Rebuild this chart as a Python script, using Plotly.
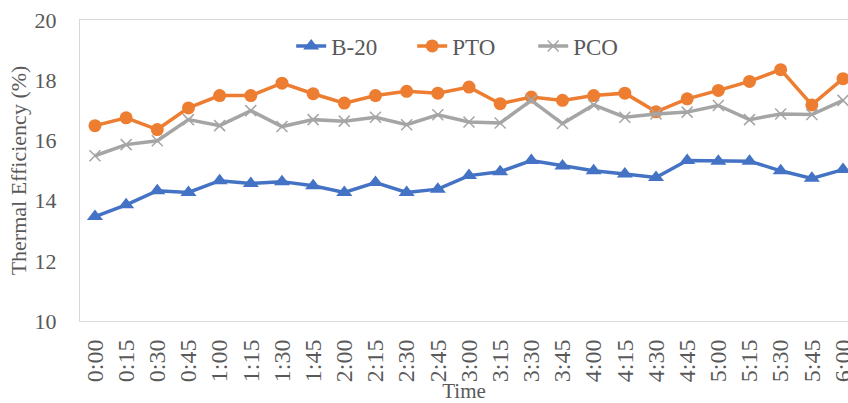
import plotly.graph_objects as go

times = ["0:00", "0:15", "0:30", "0:45", "1:00", "1:15", "1:30", "1:45", "2:00",
         "2:15", "2:30", "2:45", "3:00", "3:15", "3:30", "3:45", "4:00", "4:15",
         "4:30", "4:45", "5:00", "5:15", "5:30", "5:45", "6:00"]

b20 = [13.47, 13.86, 14.33, 14.27, 14.66, 14.57, 14.63, 14.49, 14.27, 14.60,
       14.27, 14.38, 14.83, 14.96, 15.33, 15.15, 14.99, 14.88, 14.77, 15.33,
       15.31, 15.31, 14.99, 14.74, 15.03]

pto = [16.49, 16.75, 16.36, 17.08, 17.49, 17.49, 17.90, 17.55, 17.24, 17.49,
       17.63, 17.57, 17.77, 17.22, 17.44, 17.33, 17.49, 17.57, 16.95, 17.38,
       17.66, 17.96, 18.35, 17.18, 18.05]

pco = [15.49, 15.86, 15.99, 16.69, 16.49, 16.99, 16.46, 16.69, 16.64, 16.77,
       16.52, 16.85, 16.61, 16.58, 17.33, 16.56, 17.18, 16.77, 16.88, 16.94,
       17.16, 16.69, 16.88, 16.86, 17.33]

FONT = "Liberation Serif, Times New Roman, serif"
TEXT = "#595959"
AXIS = "#d9d9d9"

fig = go.Figure()
fig.add_trace(go.Scatter(
    x=times, y=b20, name="B-20", mode="lines+markers",
    line=dict(color="#4472C4", width=3.5),
    marker=dict(symbol="triangle-up", size=14, color="#4472C4"),
))
fig.add_trace(go.Scatter(
    x=times, y=pto, name="PTO", mode="lines+markers",
    line=dict(color="#ED7D31", width=3.5),
    marker=dict(symbol="circle", size=13, color="#ED7D31"),
))
fig.add_trace(go.Scatter(
    x=times, y=pco, name="PCO", mode="lines+markers",
    line=dict(color="#A5A5A5", width=3.5),
    marker=dict(symbol="x-thin", size=11, color="#A5A5A5",
                line=dict(color="#A5A5A5", width=1.5)),
))

fig.update_layout(
    width=848, height=403,
    margin=dict(l=80, r=0, t=20, b=82),
    paper_bgcolor="white", plot_bgcolor="white",
    font=dict(family=FONT, size=20, color=TEXT),
    showlegend=True,
    legend=dict(orientation="h", x=0.275, xanchor="left", y=0.985, yanchor="top",
                font=dict(family=FONT, size=23, color=TEXT),
                bgcolor="rgba(255,255,255,0)",
                entrywidth=76, entrywidthmode="pixels"),
    xaxis=dict(
        type="category", categoryorder="array", categoryarray=times,
        range=[-0.48, 24.16], automargin=False,
        showline=True, linecolor=AXIS, linewidth=1, mirror=True,
        showgrid=False, zeroline=False,
        tickangle=-90, ticks="", ticklabelstandoff=8,
        tickfont=dict(family=FONT, size=24, color=TEXT),
        title=dict(text="Time", font=dict(family=FONT, size=21, color=TEXT),
                   standoff=4),
    ),
    yaxis=dict(
        range=[10, 20], tickvals=[10, 12, 14, 16, 18, 20], automargin=False,
        showline=True, linecolor=AXIS, linewidth=1,
        showgrid=False, zeroline=False, ticks="",
        ticklabelstandoff=18,
        tickfont=dict(family=FONT, size=22, color=TEXT),
        title=dict(text="Thermal Efficiency (%)",
                   font=dict(family=FONT, size=22, color=TEXT), standoff=1),
    ),
)

fig.write_html("out.html")
